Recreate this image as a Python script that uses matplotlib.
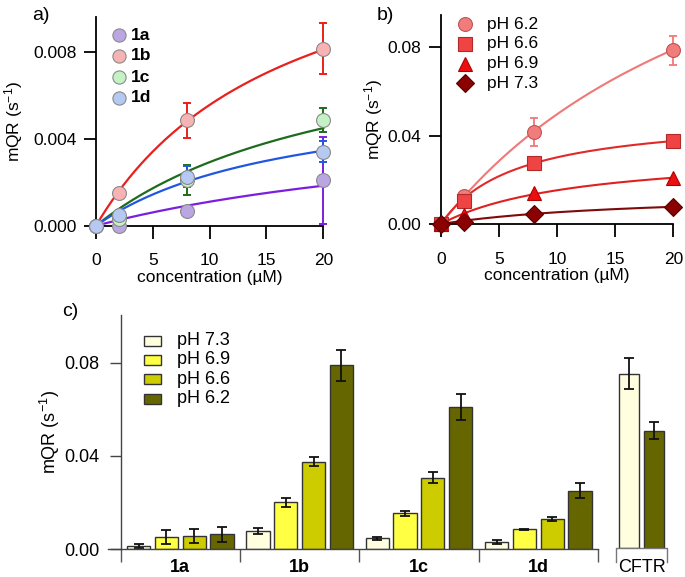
import numpy as np
import matplotlib
matplotlib.use("Agg")
import matplotlib.pyplot as plt

plt.rcParams['font.family'] = ['Liberation Sans', 'DejaVu Sans']
plt.rcParams['mathtext.default'] = 'regular'

# ---------------- data ----------------
conc = [0, 2, 8, 20]

# panel a
a_names = ['1a', '1b', '1c', '1d']
a_1a = [0.0, 0.0, 0.00068, 0.0021]
a_1b = [0.0, 0.0015, 0.00484, 0.00814]
a_1c = [0.0, 0.0003, 0.0021, 0.00487]
a_1d = [0.0, 0.0005, 0.00226, 0.00341]
a_err_1a = [0, 0, 0, 0.0020]
a_err_1b = [0, 0, 0.0008, 0.00117]
a_err_1c = [0, 0, 0.00067, 0.00054]
a_err_1d = [0, 0, 0.0005, 0.0005]
# hyperbolic fit parameters (Vmax, K)
a_fit_vmax = [0.00552, 0.01495, 0.00965, 0.00647]
a_fit_k = [40.0, 16.9, 23.0, 17.5]

# panel b
b_names = ['pH 6.2', 'pH 6.6', 'pH 6.9', 'pH 7.3']
b_62 = [0.0, 0.0128, 0.0418, 0.0788]
b_66 = [0.0, 0.0104, 0.0275, 0.0376]
b_69 = [0.0, 0.0041, 0.0139, 0.0210]
b_73 = [0.0, 0.0011, 0.0045, 0.0078]
b_err_62 = [0, 0, 0.0063, 0.0066]
b_fit_vmax = [0.1916, 0.0498, 0.0333, 0.01455]
b_fit_k = [28.5, 6.48, 11.76, 17.3]

# panel c
c_groups = ['1a', '1b', '1c', '1d']
c_ph = ['pH 7.3', 'pH 6.9', 'pH 6.6', 'pH 6.2']
c_73 = [0.0014, 0.0078, 0.0047, 0.0031]
c_69 = [0.0054, 0.0201, 0.0154, 0.0086]
c_66 = [0.0055, 0.0376, 0.0307, 0.0130]
c_62 = [0.0064, 0.0789, 0.0611, 0.0251]
c_err_73 = [0.0007, 0.0014, 0.0007, 0.0007]
c_err_69 = [0.0030, 0.0020, 0.0010, 0.0003]
c_err_66 = [0.0030, 0.0020, 0.0023, 0.0010]
c_err_62 = [0.0032, 0.0066, 0.0056, 0.0032]
cftr_label = 'CFTR'
cftr_ph = ['pH 7.3', 'pH 6.2']
cftr_vals = [0.0746, 0.0503]
cftr_err = [0.0066, 0.0036]

# ---------------- figure ----------------
W, H = 685, 577
fig = plt.figure(figsize=(W / 100, H / 100), dpi=100)

def frac(l, t, r, b):
    return [l / W, 1 - b / H, (r - l) / W, (b - t) / H]

TL = 9.0
FS = 12.5

def style_xy(ax):
    for s in ['top', 'right']:
        ax.spines[s].set_visible(False)
    for s in ['left', 'bottom']:
        ax.spines[s].set_linewidth(1.3)
    ax.tick_params(direction='out', length=TL, width=1.3, labelsize=FS)
    ax.tick_params(axis='x', pad=11)
    ax.tick_params(axis='y', pad=5)

# ---------- panel a ----------
axa = fig.add_axes(frac(96, 17, 323.3, 225.7))
style_xy(axa)
a_series = [a_1a, a_1b, a_1c, a_1d]
a_errs = [a_err_1a, a_err_1b, a_err_1c, a_err_1d]
a_face = ['#bba6e2', '#f7b3b3', '#c4f2c4', '#b6c9f2']
a_line = ['#7a1fe0', '#e8201e', '#1d6b1d', '#2157e0']
xs = np.linspace(0, 20, 200)
for vals, errs, fc, lc, vm, k in zip(a_series, a_errs, a_face, a_line, a_fit_vmax, a_fit_k):
    axa.plot(xs, vm * xs / (k + xs), color=lc, lw=1.6, zorder=2, clip_on=False)
for vals, errs, fc, lc in zip(a_series, a_errs, a_face, a_line):
    axa.errorbar(conc, vals, yerr=errs, fmt='none', ecolor=lc, elinewidth=1.4,
                 capsize=3, capthick=1.4, zorder=3, clip_on=False)
for vals, fc in zip(a_series, a_face):
    axa.plot(conc, vals, 'o', ms=10, mfc=fc, mec='#8a8a8a', mew=0.8,
             zorder=4, clip_on=False)
axa.set_xlim(0, 20)
axa.set_ylim(0, 0.0096)
axa.set_xticks([0, 5, 10, 15, 20])
axa.set_yticks([0, 0.004, 0.008])
axa.set_yticklabels(['0.000', '0.004', '0.008'])
axa.set_xlabel('concentration (µM)', fontsize=FS, labelpad=1)
axa.set_ylabel('mQR (s$^{-1}$)', fontsize=FS, labelpad=6)
for i, (n, fc) in enumerate(zip(a_names, a_face)):
    y = 1 - (35 + 21 * i - 17) / (225.7 - 17)
    axa.plot([(118.7 - 96) / (323.3 - 96)], [y], 'o', ms=9.5, mfc=fc, mec='#8a8a8a',
             mew=0.8, transform=axa.transAxes, clip_on=False)
    axa.text((131 - 96) / (323.3 - 96), y, n, transform=axa.transAxes,
             fontsize=FS, fontweight='bold', va='center', ha='left')
fig.text(32 / W, 1 - 16 / H, 'a)', fontsize=FS + 1.5, va='center', ha='left')

# ---------- panel b ----------
axb = fig.add_axes(frac(441, 15, 673.3, 224))
style_xy(axb)
b_series = [b_62, b_66, b_69, b_73]
b_markers = ['o', 's', '^', 'D']
b_ms = [10, 9.5, 10, 9]
b_face = ['#f07c7c', '#f04444', '#ea1010', '#8b0000']
b_edge = ['#c05555', '#b02a2a', '#b00000', '#5a0000']
b_line = ['#f07878', '#e02a2a', '#e02020', '#7e0a0a']
for vals, lc, vm, k in zip(b_series, b_line, b_fit_vmax, b_fit_k):
    axb.plot(xs, vm * xs / (k + xs), color=lc, lw=1.5, zorder=2, clip_on=False)
axb.errorbar(conc, b_62, yerr=b_err_62, fmt='none', ecolor=b_line[0], elinewidth=1.3,
             capsize=3, capthick=1.3, zorder=3, clip_on=False)
for vals, m, ms, fc, ec in zip(b_series, b_markers, b_ms, b_face, b_edge):
    axb.plot(conc, vals, m, ms=ms, mfc=fc, mec=ec, mew=0.8, zorder=4, clip_on=False)
axb.set_xlim(0, 20)
axb.set_ylim(0, 0.0947)
axb.set_xticks([0, 5, 10, 15, 20])
axb.set_yticks([0, 0.04, 0.08])
axb.set_yticklabels(['0.00', '0.04', '0.08'])
axb.set_xlabel('concentration (µM)', fontsize=FS, labelpad=1)
axb.set_ylabel('mQR (s$^{-1}$)', fontsize=FS, labelpad=2)
bw = 673.3 - 441
for i, (n, m, ms, fc, ec) in enumerate(zip(b_names, b_markers, b_ms, b_face, b_edge)):
    y = 1 - (24 + 19.8 * i - 15) / (224 - 15)
    axb.plot([(465 - 441) / bw], [y], m, ms=ms, mfc=fc, mec=ec, mew=0.8,
             transform=axb.transAxes, clip_on=False)
    axb.text((487 - 441) / bw, y, n, transform=axb.transAxes,
             fontsize=FS, va='center', ha='left')
fig.text(377 / W, 1 - 16 / H, 'b)', fontsize=FS + 1.5, va='center', ha='left')

# ---------- panel c ----------
axc = fig.add_axes(frac(120.7, 315, 669.5, 549.3))
for s in ['top', 'right', 'bottom']:
    axc.spines[s].set_visible(False)
axc.spines['left'].set_color('#444444')
axc.spines['left'].set_linewidth(1.0)
axc.tick_params(axis='y', direction='out', length=8, width=1.0, color='#444444',
                labelsize=FS + 0.5, pad=7)
axc.tick_params(axis='x', bottom=False, labelbottom=False)
axc.set_xlim(-0.5, 4.1)
axc.set_ylim(0, 0.1004)
axc.set_yticks([0, 0.04, 0.08])
axc.set_yticklabels(['0.00', '0.04', '0.08'])
axc.set_ylabel('mQR (s$^{-1}$)', fontsize=FS + 0.5, labelpad=2)

c_series = [c_73, c_69, c_66, c_62]
c_errs = [c_err_73, c_err_69, c_err_66, c_err_62]
c_colors = ['#ffffe0', '#ffff44', '#cccc00', '#666600']
pos = np.arange(len(c_groups))
step, bwid = 0.233, 0.195
for j, (vals, errs, col, lab) in enumerate(zip(c_series, c_errs, c_colors, c_ph)):
    xp = pos + (j - 1.5) * step
    axc.bar(xp, vals, width=bwid, color=col, edgecolor='#333333', linewidth=1.0,
            zorder=2, label=lab)
    axc.errorbar(xp, vals, yerr=errs, fmt='none', ecolor='#111111', elinewidth=1.3,
                 capsize=3.5, capthick=1.3, zorder=3)
cx = 3.868
cftr_pos = [cx - 0.105, cx + 0.105]
cftr_cols = [c_colors[0], c_colors[3]]
axc.bar(cftr_pos, cftr_vals, width=0.168, bottom=0.0006, color=cftr_cols,
        edgecolor='#333333', linewidth=1.0, zorder=2)
axc.errorbar(cftr_pos, np.array(cftr_vals) + 0.0006, yerr=cftr_err, fmt='none',
             ecolor='#111111', elinewidth=1.3, capsize=3.5, capthick=1.3, zorder=3)

# category axis
tk = 0.0056
axc.plot([-0.5, 3.5], [0, 0], color='#444444', lw=1.0, clip_on=False, zorder=4)
axc.plot([-0.605, -0.5], [0, 0], color='#444444', lw=1.0, clip_on=False, zorder=4)
axc.vlines(np.arange(-0.5, 3.6, 1.0), -tk, 0, color='#555555', lw=1.0, clip_on=False)
axc.plot([3.652, 3.652, 4.077, 4.077], [-tk, 0.0006, 0.0006, -tk], color='#777777',
         lw=1.0, clip_on=False)
for p, g in zip(pos, c_groups):
    axc.text(p, -0.0080, g, fontsize=FS + 0.5, fontweight='bold', ha='center', va='center')
axc.text(cx, -0.0080, cftr_label, fontsize=FS + 0.5, ha='center', va='center')

# legend c
cw = 669.5 - 120.7
ch = 549.3 - 315
for i, (lab, col) in enumerate(zip(c_ph, c_colors)):
    yc = 340.7 + 19.3 * i
    axc.add_patch(plt.Rectangle(((144 - 120.7) / cw, 1 - (yc + 5 - 315) / ch),
                                16.5 / cw, 10 / ch, transform=axc.transAxes,
                                facecolor=col, edgecolor='#333333', lw=1.0,
                                clip_on=False))
    axc.text((177 - 120.7) / cw, 1 - (yc - 315) / ch, lab, transform=axc.transAxes,
             fontsize=FS + 0.5, va='center', ha='left')
fig.text(62 / W, 1 - 312 / H, 'c)', fontsize=FS + 1.5, va='center', ha='left')

fig.savefig('out.png', dpi=100)
